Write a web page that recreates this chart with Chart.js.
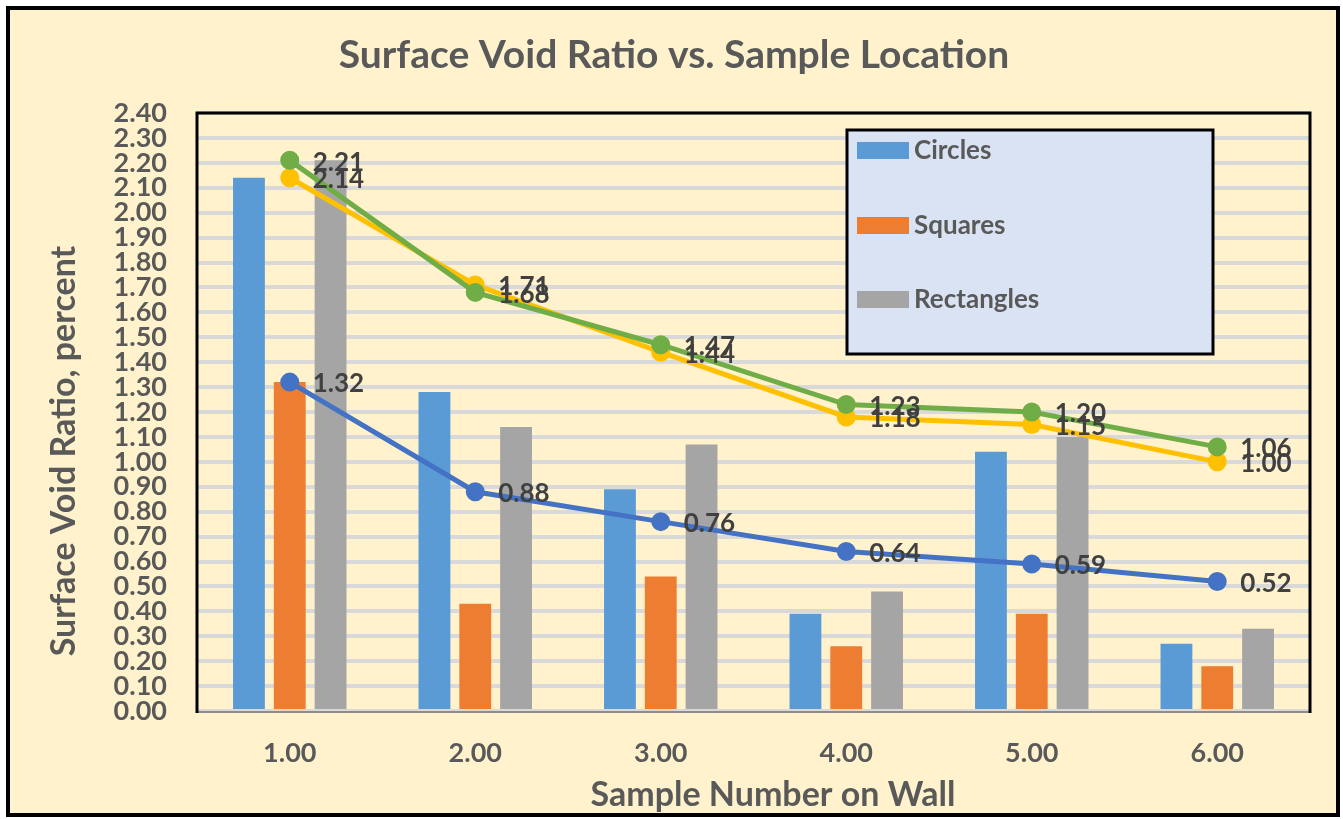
<!DOCTYPE html>
<html>
<head>
  <title>Surface Void Ratio vs. Sample Location</title>
  <script src="https://cdn.jsdelivr.net/npm/chart.js"></script>
  <style>
    body { margin: 0; background: #fff; }
  </style>
</head>
<body>
  <canvas id="voidChart" width="1343" height="819"></canvas>

  <script>
    // values
    const samples = ['1.00', '2.00', '3.00', '4.00', '5.00', '6.00'];
    const circles = [2.14, 1.28, 0.89, 0.39, 1.04, 0.27];
    const squares = [1.32, 0.43, 0.54, 0.26, 0.39, 0.18];
    const rectangles = [2.21, 1.14, 1.07, 0.48, 1.10, 0.33];
    const blueLine = [1.32, 0.88, 0.76, 0.64, 0.59, 0.52];
    const yellowLine = [2.14, 1.71, 1.44, 1.18, 1.15, 1.00];
    const greenLine = [2.21, 1.68, 1.47, 1.23, 1.20, 1.06];

    const FONT = 'Lato, "Open Sans", sans-serif';
    const GREY_TEXT = '#595959';

    // frame, title and axis titles
    const framePlugin = {
      id: 'frame',
      beforeDraw(chart) {
        const ctx = chart.ctx;
        ctx.save();
        ctx.fillStyle = '#fff';
        ctx.fillRect(0, 0, chart.width, chart.height);
        ctx.fillStyle = '#FFF2CC';
        ctx.fillRect(8, 8, 1330, 807);
        ctx.lineWidth = 4;
        ctx.strokeStyle = '#000';
        ctx.strokeRect(8, 8, 1330, 807);
        ctx.restore();
      },
      afterDraw(chart) {
        const ctx = chart.ctx;
        ctx.save();
        ctx.fillStyle = GREY_TEXT;
        ctx.textAlign = 'center';
        ctx.textBaseline = 'middle';
        ctx.font = 'bold 39px ' + FONT;
        ctx.fillText('Surface Void Ratio vs. Sample Location', 674, 55);
        ctx.font = 'bold 34px ' + FONT;
        ctx.fillText('Sample Number on Wall', 773, 795);
        ctx.translate(64, 451);
        ctx.rotate(-Math.PI / 2);
        ctx.fillText('Surface Void Ratio, percent', 0, 0);
        ctx.restore();
      }
    };

    // plot-area border, data labels and legend box
    const overlayPlugin = {
      id: 'overlay',
      afterDatasetsDraw(chart) {
        const ctx = chart.ctx;
        const a = chart.chartArea;
        ctx.save();
        ctx.strokeStyle = '#8C8C8C';
        ctx.lineWidth = 2;
        ctx.beginPath();
        ctx.moveTo(a.left, a.bottom + 1);
        ctx.lineTo(a.right, a.bottom + 1);
        ctx.stroke();
        ctx.strokeStyle = '#000';
        ctx.lineWidth = 3;
        ctx.beginPath();
        ctx.moveTo(a.left, a.bottom + 2);
        ctx.lineTo(a.left, a.top);
        ctx.lineTo(a.right, a.top);
        ctx.lineTo(a.right, a.bottom + 2);
        ctx.stroke();

        // labels for the line series
        ctx.font = 'bold 26px ' + FONT;
        ctx.fillStyle = '#404040';
        ctx.textAlign = 'left';
        ctx.textBaseline = 'middle';
        chart.data.datasets.forEach((ds, i) => {
          if (ds.type !== 'line') return;
          chart.getDatasetMeta(i).data.forEach((pt, j) => {
            ctx.fillText(ds.data[j].toFixed(2), pt.x + 23, pt.y + 2);
          });
        });

        // legend box
        const lx = 847, ly = 130, lw = 366, lh = 224;
        ctx.fillStyle = '#DAE3F3';
        ctx.fillRect(lx, ly, lw, lh);
        ctx.strokeStyle = '#000';
        ctx.lineWidth = 3;
        ctx.strokeRect(lx, ly, lw, lh);
        const rows = [150, 225, 299];
        ctx.font = 'bold 26px ' + FONT;
        chart.data.datasets.filter(ds => ds.type === 'bar').forEach((ds, k) => {
          ctx.fillStyle = ds.backgroundColor;
          ctx.fillRect(857, rows[k] - 8, 52, 17);
          ctx.fillStyle = GREY_TEXT;
          ctx.fillText(ds.label, 914, rows[k] + 1);
        });
        ctx.restore();
      }
    };

    const ctx = document.getElementById('voidChart').getContext('2d');

    new Chart(ctx, {
      data: {
        labels: samples,
        datasets: [
          { type: 'line', label: 'Circles line', data: blueLine, borderColor: '#4472C4', backgroundColor: '#4472C4', borderWidth: 5, pointRadius: 7, order: 1 },
          { type: 'line', label: 'Squares line', data: yellowLine, borderColor: '#FFC000', backgroundColor: '#FFC000', borderWidth: 5, pointRadius: 7, order: 1 },
          { type: 'line', label: 'Rectangles line', data: greenLine, borderColor: '#70AD47', backgroundColor: '#70AD47', borderWidth: 5, pointRadius: 7, order: 0 },
          { type: 'bar', label: 'Circles', data: circles, backgroundColor: '#5B9BD5', order: 2 },
          { type: 'bar', label: 'Squares', data: squares, backgroundColor: '#ED7D31', order: 2 },
          { type: 'bar', label: 'Rectangles', data: rectangles, backgroundColor: '#A5A5A5', order: 2 }
        ]
      },
      options: {
        responsive: false,
        animation: false,
        layout: { padding: { top: 113, right: 33, left: 0, bottom: 0 } },
        datasets: {
          bar: { categoryPercentage: 0.66, barPercentage: 0.78 }
        },
        plugins: {
          legend: { display: false },
          title: { display: false },
          tooltip: { enabled: false }
        },
        scales: {
          x: {
            offset: true,
            grid: { display: false, drawTicks: false },
            border: { display: false },
            ticks: { color: GREY_TEXT, font: { family: FONT, size: 27, weight: 'bold' }, padding: 26 },
            afterFit(axis) { axis.height = 108; }
          },
          y: {
            min: 0,
            max: 2.4,
            grid: { color: '#D9D9D9', lineWidth: 4, drawTicks: false },
            border: { display: false },
            ticks: {
              stepSize: 0.1,
              autoSkip: false,
              color: GREY_TEXT,
              font: { family: FONT, size: 27, weight: 'bold', lineHeight: 0.9 },
              padding: 30,
              callback: v => v.toFixed(2)
            },
            afterFit(axis) { axis.width = 197; }
          }
        }
      },
      plugins: [framePlugin, overlayPlugin]
    });
  </script>
</body>
</html>
